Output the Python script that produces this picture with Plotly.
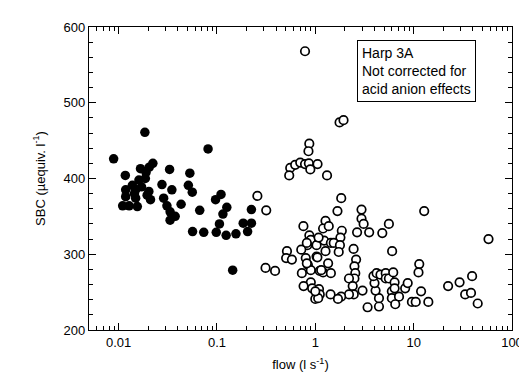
import plotly.graph_objects as go

# Filled circles (low-flow samples)
filled_flow = [0.0089, 0.0185, 0.0223, 0.0167, 0.033, 0.0117, 0.053, 0.0161, 0.0187, 0.0138,
               0.0171, 0.0276, 0.0118, 0.0149, 0.0203, 0.0348, 0.0512, 0.0118, 0.0149, 0.0211,
               0.0287, 0.0110, 0.0128, 0.0155, 0.031, 0.0432, 0.0334, 0.0376, 0.0334, 0.0812,
               0.0561, 0.110, 0.0968, 0.0668, 0.126, 0.115, 0.224, 0.106, 0.185, 0.224,
               0.0565, 0.0734, 0.0984, 0.124, 0.156, 0.205, 0.1445, 0.019, 0.0205, 0.0145, 0.0195]
filled_sbc = [426, 461, 420, 413, 412, 404, 407, 398, 400, 391,
              389, 392, 385, 385, 383, 385, 391, 376, 374, 372,
              374, 364, 364, 363, 364, 366, 356, 350, 345, 439,
              382, 379, 372, 358, 362, 353, 359, 340, 341, 341,
              330, 329, 329, 325, 327, 330, 279, 408, 415, 380, 378]

# Open circles
open_flow = [0.786, 1.765, 1.936, 0.869, 0.852, 0.556, 0.624, 0.703, 0.786, 0.86,
             1.054, 1.316, 0.543, 0.89, 0.2576, 0.317, 0.757, 0.87, 0.9, 0.83,
             0.72, 0.515, 0.505, 0.578, 0.80, 0.84, 0.90, 0.73, 0.312, 0.39,
             0.90, 0.76, 1.27, 1.20, 1.37, 0.82, 1.03, 1.23, 1.44, 1.27,
             1.03, 0.82, 1.35, 1.11, 1.20, 1.44, 0.93, 1.09, 1.11, 1.0,
             1.43, 1.835, 1.68, 2.95, 2.95, 3.1, 2.66, 3.53, 4.8, 5.6,
             6.04, 1.86, 1.8, 1.08, 1.54, 1.78, 1.73, 1.05, 2.45, 2.6,
             2.5, 2.55, 2.5, 2.2, 2.4, 2.46, 2.2, 1.83, 1.7, 1.07,
             1.15, 3.02, 3.4, 4.44, 4.44, 4.1, 4.0, 3.9, 4.2, 4.6,
             5.2, 5.2, 5.6, 6.0, 6.0, 12.8, 6.2, 6.4, 6.4, 7.1,
             6.5, 8.2, 8.7, 11.4, 11.2, 11.9, 9.6, 10.5, 14.1, 22.4,
             57.7, 29.3, 39.3, 33.4, 38.3, 44.8, 1.0]
open_sbc = [568, 474, 477, 446, 436, 414, 418, 421, 419, 420,
            419, 404, 404, 412, 377, 358, 337, 325, 319, 312,
            306, 304, 295, 293, 295, 286, 279, 275, 282, 278,
            263, 258, 344, 334, 337, 315, 312, 318, 315, 304,
            297, 288, 288, 278, 276, 275, 255, 254, 247, 241,
            247, 374, 357, 359, 347, 340, 329, 329, 328, 340,
            304, 331, 322, 322, 315, 312, 303, 296, 307, 293,
            284, 275, 268, 268, 258, 247, 247, 244, 241, 242,
            279, 252, 230, 231, 242, 252, 262, 271, 275, 273,
            275, 268, 268, 251, 242, 357, 276, 263, 255, 244,
            234, 255, 262, 287, 276, 251, 237, 237, 237, 258,
            320, 263, 271, 247, 249, 235, 251]

x_tickvals = [0.01, 0.1, 1, 10, 100]
x_ticktext = ["0.01", "0.1", "1", "10", "100"]
y_tickvals = [200, 300, 400, 500, 600]

FONT = "Liberation Sans, Arial, sans-serif"

fig = go.Figure()
fig.add_trace(go.Scatter(
    x=open_flow, y=open_sbc, mode="markers",
    marker=dict(symbol="circle", size=8.5, color="white",
                line=dict(color="black", width=1.7)),
    showlegend=False, cliponaxis=False))
fig.add_trace(go.Scatter(
    x=filled_flow, y=filled_sbc, mode="markers",
    marker=dict(symbol="circle", size=9.5, color="black",
                line=dict(color="black", width=0)),
    showlegend=False, cliponaxis=False))

fig.update_layout(
    width=527, height=379,
    margin=dict(l=81, r=17, t=18, b=57),
    paper_bgcolor="white", plot_bgcolor="white",
    font=dict(family=FONT, size=13, color="black"),
    xaxis=dict(
        type="log", range=[-2.301, 2.0],
        tickvals=x_tickvals, ticktext=x_ticktext,
        ticks="inside", ticklen=7, tickwidth=1, tickcolor="black",
        minor=dict(ticks="inside", ticklen=4, tickwidth=1, tickcolor="black",
                   dtick="D1", showgrid=False),
        showline=True, linecolor="black", linewidth=1.2, mirror="ticks",
        showgrid=False, zeroline=False,
        tickfont=dict(size=13),
        title=dict(text="flow (l s<sup>-1</sup>)", font=dict(size=13), standoff=11),
    ),
    yaxis=dict(
        range=[200, 600],
        tickvals=y_tickvals,
        ticks="inside", ticklen=7, tickwidth=1, tickcolor="black",
        minor=dict(ticks="inside", ticklen=4, tickwidth=1, tickcolor="black",
                   dtick=20, showgrid=False),
        showline=True, linecolor="black", linewidth=1.2, mirror="ticks",
        showgrid=False, zeroline=False,
        tickfont=dict(size=13),
        title=dict(text="SBC (µequiv. l<sup>-1</sup>)", font=dict(size=13), standoff=15),
    ),
)

fig.add_annotation(
    x=0.634, y=0.957, xref="paper", yref="paper",
    xanchor="left", yanchor="top", align="left",
    text="Harp 3A<br>Not corrected for<br>acid anion effects",
    showarrow=False, font=dict(size=14, family=FONT, color="black"),
    bordercolor="black", borderwidth=1, borderpad=4, bgcolor="white",
)

fig.write_html("out.html")
